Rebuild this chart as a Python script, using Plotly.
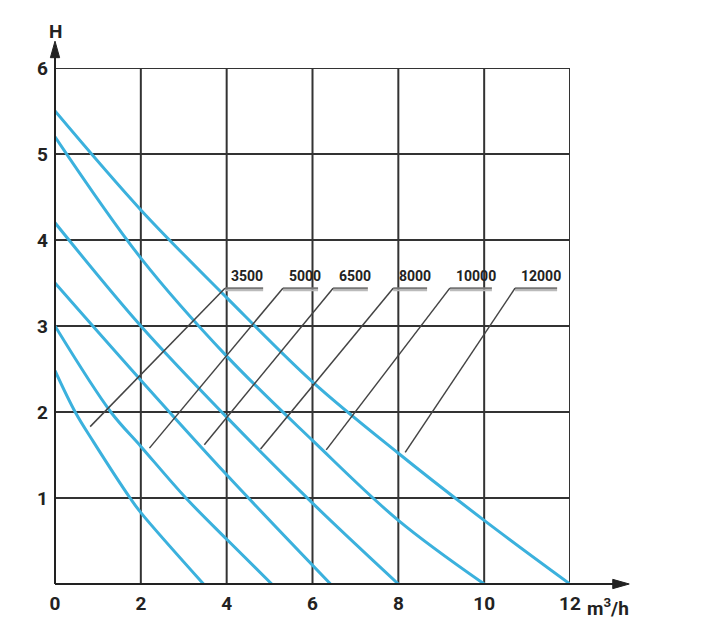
import plotly.graph_objects as go

# ---- data ----
models = ["3500", "5000", "6500", "8000", "10000", "12000"]
q_3500 = [0, 0.47, 0.9, 1.75, 2.0, 3.46]
h_3500 = [2.48, 2.0, 1.65, 1.0, 0.83, 0.0]
q_5000 = [0, 1.3, 2.0, 3.05, 4.0, 5.05]
h_5000 = [3.0, 2.0, 1.6, 1.0, 0.52, 0.0]
q_6500 = [0, 2.0, 4.0, 6.42]
h_6500 = [3.5, 2.37, 1.27, 0.0]
q_8000 = [0, 2.0, 4.0, 6.0, 8.0]
h_8000 = [4.2, 3.0, 1.94, 0.94, 0.0]
q_10000 = [0, 2.0, 4.0, 6.0, 8.0, 10.0]
h_10000 = [5.2, 3.79, 2.65, 1.67, 0.74, 0.0]
q_12000 = [0, 2.0, 4.0, 6.0, 8.0, 10.0, 12.0]
h_12000 = [5.5, 4.35, 3.33, 2.35, 1.52, 0.74, 0.0]

x_ticks = [0, 2, 4, 6, 8, 10, 12]
y_ticks = [1, 2, 3, 4, 5, 6]

curves = [(q_3500, h_3500), (q_5000, h_5000), (q_6500, h_6500),
          (q_8000, h_8000), (q_10000, h_10000), (q_12000, h_12000)]

# label layout (underline start/end along x, leader end point)
lab_x0 = [3.96, 5.31, 6.48, 7.88, 9.20, 10.72]
lab_x1 = [4.85, 6.13, 7.29, 8.67, 10.18, 11.70]
lab_y = 3.44
lead_x = [0.82, 2.2, 3.48, 4.79, 6.32, 8.16]
lead_y = [1.83, 1.58, 1.62, 1.57, 1.56, 1.53]

BLUE = "#3BB1DD"
GRID = "#333333"
AX = "#222222"
FONT = "Roboto, Liberation Sans, sans-serif"

fig = go.Figure()
for (q, h), name in zip(curves, models):
    fig.add_trace(go.Scatter(x=q, y=h, mode="lines", name=name,
                             line=dict(color=BLUE, width=3, shape="spline", smoothing=1.0),
                             showlegend=False, hoverinfo="skip"))

shapes = []
for xv in x_ticks[1:]:
    shapes.append(dict(type="line", xref="x", yref="y", x0=xv, x1=xv, y0=0, y1=6,
                       line=dict(color=GRID, width=2), layer="below"))
for yv in y_ticks:
    shapes.append(dict(type="line", xref="x", yref="y", x0=0, x1=12, y0=yv, y1=yv,
                       line=dict(color=GRID, width=2), layer="below"))
# axes with arrow heads (paper coordinates so they are not clipped)
shapes.append(dict(type="line", xref="paper", yref="paper", x0=0, x1=1.09, y0=0, y1=0,
                   line=dict(color=AX, width=2)))
shapes.append(dict(type="line", xref="paper", yref="paper", x0=0, x1=0, y0=0, y1=1.025,
                   line=dict(color=AX, width=2)))
shapes.append(dict(type="path", xref="paper", yref="paper",
                   path="M 1.083 -0.009 L 1.115 0 L 1.083 0.009 Z",
                   fillcolor=AX, line=dict(color=AX, width=1)))
shapes.append(dict(type="path", xref="paper", yref="paper",
                   path="M -0.009 1.02 L 0 1.052 L 0.009 1.02 Z",
                   fillcolor=AX, line=dict(color=AX, width=1)))
# leader lines and underlines
for x0, x1, lx, ly in zip(lab_x0, lab_x1, lead_x, lead_y):
    shapes.append(dict(type="line", xref="x", yref="y", x0=x0, x1=x1, y0=lab_y - 0.025, y1=lab_y - 0.025,
                       line=dict(color="#BBBBBB", width=2)))
    shapes.append(dict(type="line", xref="x", yref="y", x0=x0, x1=x1, y0=lab_y, y1=lab_y,
                       line=dict(color="#777777", width=2)))
    shapes.append(dict(type="line", xref="x", yref="y", x0=x0, x1=lx, y0=lab_y, y1=ly,
                       line=dict(color="#444444", width=1.5)))

annotations = []
for x0, name in zip(lab_x0, models):
    annotations.append(dict(x=x0 + 0.1, y=lab_y + 0.02, xref="x", yref="y", text="<b>%s</b>" % name,
                            showarrow=False, xanchor="left", yanchor="bottom",
                            font=dict(family=FONT, size=14, color="#222222")))
annotations.append(dict(x=0, y=1.07, xref="paper", yref="paper", text="<b>H</b>", showarrow=False,
                        xanchor="center", yanchor="middle",
                        font=dict(family=FONT, size=19, color="#222222")))
annotations.append(dict(x=1.03, y=-0.045, xref="paper", yref="paper", text="<b>m<sup>3</sup>/h</b>",
                        showarrow=False, xanchor="left", yanchor="middle",
                        font=dict(family=FONT, size=19, color="#222222")))

fig.update_layout(
    width=703, height=626,
    margin=dict(l=47, r=141, t=60, b=50),
    paper_bgcolor="white", plot_bgcolor="white",
    shapes=shapes, annotations=annotations,
    xaxis=dict(range=[0, 12], tickvals=x_ticks, ticktext=["<b>%d</b>" % v for v in x_ticks],
               showgrid=False, zeroline=False, showline=False, ticks="",
               ticklabelstandoff=6,
               tickfont=dict(family=FONT, size=19, color="#222222")),
    yaxis=dict(range=[0, 6], tickvals=y_ticks, ticktext=["<b>%d</b>" % v for v in y_ticks],
               showgrid=False, zeroline=False, showline=False, ticks="",
               ticklabelstandoff=6,
               tickfont=dict(family=FONT, size=19, color="#222222")),
)

fig.write_html("out.html")
